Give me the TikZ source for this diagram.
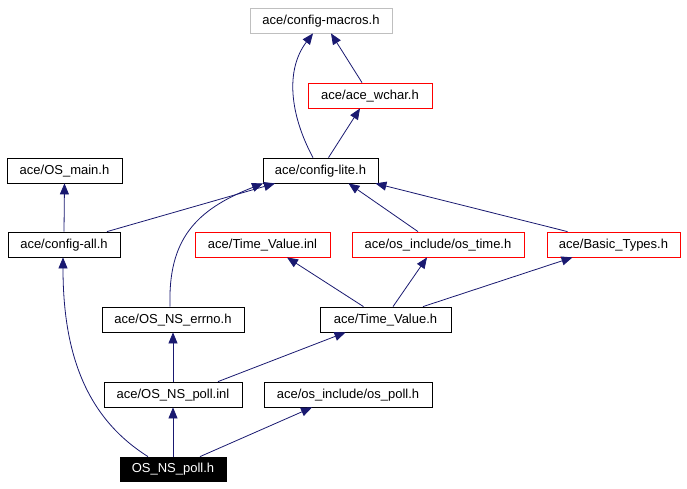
\documentclass[tikz,border=0pt]{standalone}
\usepackage{fontspec}
\setmainfont{Liberation Sans}
\usetikzlibrary{arrows.meta}
\definecolor{dxnavy}{RGB}{25,25,112}
\definecolor{dxred}{RGB}{255,0,0}
\definecolor{dxgray}{RGB}{191,191,191}
\tikzstyle{arrow} = [line width=0.8pt,-{Triangle[length=11pt,width=9pt]},color=dxnavy]
\tikzstyle{header} = [rectangle, minimum height=25pt, inner sep=0pt, text height=9.5pt, text depth=2.5pt, text centered, draw=black, fill=white, line width=0.8pt, font=\fontsize{13}{15}\selectfont]
\tikzstyle{missing} = [header, draw=dxred]
\tikzstyle{external} = [header, draw=dxgray]
\tikzstyle{current} = [header, fill=black, text=white]

\begin{document}
\begin{tikzpicture}[x=1pt, y=-1pt]
\useasboundingbox (0,0) rectangle (687,488);
% include graph
\node (macros) [external, minimum width=142pt] at (321,20.5) {ace/config-macros.h};
\node (wchar) [missing, minimum width=124pt] at (370,95.5) {ace/ace\_wchar.h};
\node (osmain) [header, minimum width=115pt] at (64.5,170.5) {ace/OS\_main.h};
\node (lite) [header, minimum width=115pt] at (320.5,170.5) {ace/config-lite.h};
\node (configall) [header, minimum width=112pt] at (64,244.5) {ace/config-all.h};
\node (tvinl) [missing, minimum width=135pt] at (262.5,244.5) {ace/Time\_Value.inl};
\node (ostime) [missing, minimum width=172pt] at (438,244.5) {ace/os\_include/os\_time.h};
\node (basic) [missing, minimum width=133pt] at (613.5,244.5) {ace/Basic\_Types.h};
\node (errno) [header, minimum width=142pt] at (173,319.5) {ace/OS\_NS\_errno.h};
\node (tvh) [header, minimum width=131pt] at (385.5,319.5) {ace/Time\_Value.h};
\node (pollinl) [header, minimum width=138pt] at (173,394.5) {ace/OS\_NS\_poll.inl};
\node (ospoll) [header, minimum width=168pt] at (348,394.5) {ace/os\_include/os\_poll.h};
\node (pollh) [current, minimum width=106pt, minimum height=24pt] at (173,469) {OS\_NS\_poll.h};

\draw[arrow] ([xshift=-7.5pt]lite.north) .. controls (290,115) and (285,70) .. ([xshift=-8pt]macros.south);
\draw[arrow] ([xshift=-8pt]wchar.north) -- ([xshift=10pt]macros.south);
\draw[arrow] ([xshift=8pt]lite.north) -- ([xshift=-10pt]wchar.south);
\draw[arrow] (configall.north) -- (osmain.south);
\draw[arrow] ([xshift=43pt]configall.north) -- ([xshift=-45.5pt]lite.south);
\draw[arrow] ([xshift=-3pt]errno.north) .. controls (168,240) and (195,210) .. ([xshift=-57.5pt]lite.south);
\draw[arrow] ([xshift=-20pt]ostime.north) -- ([xshift=28pt]lite.south);
\draw[arrow] ([xshift=-46pt]basic.north) -- ([xshift=-3pt]lite.south east);
\draw[arrow] ([xshift=-22pt]tvh.north) -- ([xshift=24.5pt]tvinl.south);
\draw[arrow] ([xshift=7.5pt]tvh.north) -- ([xshift=-11pt]ostime.south);
\draw[arrow] ([xshift=37.5pt]tvh.north) -- ([xshift=-41pt]basic.south);
\draw[arrow] (pollinl.north) -- (errno.south);
\draw[arrow] ([xshift=45pt]pollinl.north) -- ([xshift=-40pt]tvh.south);
\draw[arrow] ([xshift=-25pt]pollh.north) .. controls (90,420) and (63,360) .. ([xshift=-1pt]configall.south);
\draw[arrow] (pollh.north) -- (pollinl.south);
\draw[arrow] ([xshift=27pt]pollh.north) -- ([xshift=-36pt]ospoll.south);
\end{tikzpicture}
\end{document}
